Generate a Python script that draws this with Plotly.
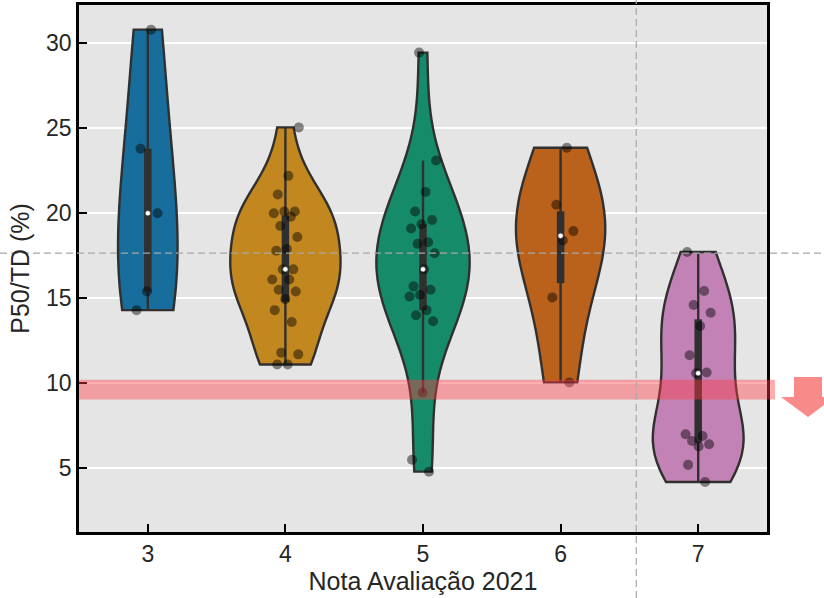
import numpy as np
import plotly.graph_objects as go

# ---- data: P50/TD (%) per "Nota Avaliação 2021" group ----
grades = [3, 4, 5, 6, 7]
tick_labels = ["3", "4", "5", "6", "7"]

p50_nota3 = [30.8, 23.8, 20.0, 15.4, 14.3]
p50_nota4 = [25.05, 22.2, 21.1, 20.1, 20.1, 20.0, 19.8, 19.25, 18.6, 17.9, 17.8,
             16.7, 16.7, 16.1, 16.1, 15.5, 15.4, 14.95, 14.3, 13.6, 11.8, 11.7,
             11.1, 11.1]
p50_nota5 = [29.45, 23.1, 21.25, 20.1, 19.6, 19.35, 19.1, 18.3, 18.2, 17.65, 16.7,
             15.7, 15.5, 15.2, 15.1, 14.3, 14.0, 13.65, 9.45, 5.5, 4.8]
p50_nota6 = [23.85, 20.5, 18.95, 18.4, 15.05, 10.05]
p50_nota7 = [17.72, 15.43, 14.6, 14.15, 13.37, 11.65, 10.63, 10.59, 7.0, 6.9,
             6.6, 6.41, 6.28, 5.2, 4.19]

groups = [p50_nota3, p50_nota4, p50_nota5, p50_nota6, p50_nota7]

# reference markers
ref_p50 = 17.65        # dashed horizontal reference
ref_grade = 6.55       # dashed vertical split
band_low, band_high = 9.05, 10.2   # highlighted threshold band

y_ticks = [5, 10, 15, 20, 25, 30]

# ---- style ----
colors = ["#176d9b", "#c38720", "#168b69", "#ba611b", "#c282b6"]
edge = "#303030"
font_family = "Liberation Sans, Arial, sans-serif"
x_range = [2.5, 7.5]
y_range = [1.25, 32.25]
full_width = 0.8        # widest violin (scale by area, like seaborn)
jitter = 0.1


def kde_info(vals):
    """Scott bandwidth and peak density over the data span (gaussian kernel)."""
    x = np.asarray(vals, float)
    bw = x.std(ddof=1) * len(x) ** -0.2
    grid = np.linspace(x.min(), x.max(), 100)
    z = (grid[:, None] - x[None, :]) / bw
    dens = np.exp(-0.5 * z ** 2).sum(axis=1) / (len(x) * bw * np.sqrt(2 * np.pi))
    return bw, dens.max()


def box_stats(vals):
    x = np.asarray(vals, float)
    q1, med, q3 = np.percentile(x, [25, 50, 75])
    lim = 1.5 * (q3 - q1)
    lo = x[x >= q1 - lim].min()
    hi = x[x <= q3 + lim].max()
    return q1, med, q3, lo, hi


info = [kde_info(v) for v in groups]
peak = max(d for _, d in info)

fig = go.Figure()

# violins
for g, vals, col, (bw, dmax) in zip(grades, groups, colors, info):
    fig.add_trace(go.Violin(
        x=[g] * len(vals), y=vals,
        fillcolor=col, line=dict(color=edge, width=2.4),
        bandwidth=bw, spanmode="hard", scalemode="width",
        width=full_width * dmax / peak,
        points=False, box_visible=False, meanline_visible=False,
        showlegend=False, hoverinfo="y",
    ))

# inner boxes (whisker + interquartile bar)
for g, vals in zip(grades, groups):
    q1, med, q3, lo, hi = box_stats(vals)
    fig.add_trace(go.Scatter(x=[g, g], y=[lo, hi], mode="lines",
                             line=dict(color=edge, width=2.4),
                             showlegend=False, hoverinfo="skip"))
    fig.add_trace(go.Scatter(x=[g, g], y=[q1, q3], mode="lines",
                             line=dict(color=edge, width=7.5),
                             showlegend=False, hoverinfo="skip"))

# strip points with a deterministic spread around each group
golden = 0.6180339887
for k, (g, vals) in enumerate(zip(grades, groups)):
    u = np.mod((np.arange(len(vals)) + 1) * golden + 0.37 * k, 1.0)
    xs = g + jitter * (2 * u - 1)
    fig.add_trace(go.Scatter(x=xs, y=vals, mode="markers",
                             marker=dict(size=10, color="rgba(0,0,0,0.45)",
                                         line=dict(width=0)),
                             showlegend=False, hoverinfo="y"))

# medians
for g, vals in zip(grades, groups):
    med = box_stats(vals)[1]
    fig.add_trace(go.Scatter(x=[g], y=[med], mode="markers",
                             marker=dict(size=5.5, color="white",
                                         line=dict(color=edge, width=0.8)),
                             showlegend=False, hoverinfo="y"))

# plot area in pixels (for shapes that extend past the axes)
W, H = 824, 598
ml, mr, mt, mb = 79, 57, 5, 66
pw, ph = W - ml - mr, H - mt - mb


def px_to_paper_x(px):
    return (px - ml) / pw


def px_to_paper_y(py):
    return (H - mb - py) / ph


shapes = [
    # threshold band
    dict(type="rect", xref="paper", yref="y",
         x0=0, x1=px_to_paper_x(775), y0=band_low, y1=band_high,
         fillcolor="rgba(255,60,70,0.42)", line=dict(width=0), layer="above"),
    # horizontal reference across the whole figure
    dict(type="line", xref="paper", yref="y",
         x0=px_to_paper_x(0), x1=px_to_paper_x(W), y0=ref_p50, y1=ref_p50,
         line=dict(color="#a8a8a8", width=1.2, dash="7px,4px"), layer="above"),
    # vertical split across the whole figure
    dict(type="line", xref="x", yref="paper",
         x0=ref_grade, x1=ref_grade, y0=px_to_paper_y(H), y1=px_to_paper_y(0),
         line=dict(color="#a8a8a8", width=1.2, dash="7px,4px"), layer="above"),
]

# downward arrow beside the band
sx0, sx1 = px_to_paper_x(794), px_to_paper_x(822)
hx0, hx1 = px_to_paper_x(781), px_to_paper_x(835)
tip = px_to_paper_x(808)
ay_top = band_high + 0.17
ay_mid = band_low + 0.14
ay_tip = band_low - 1.03
arrow_path = (f"M{sx0},{ay_top} L{sx1},{ay_top} L{sx1},{ay_mid} L{hx1},{ay_mid} "
              f"L{tip},{ay_tip} L{hx0},{ay_mid} L{sx0},{ay_mid} Z")
shapes.append(dict(type="path", xref="paper", yref="y", path=arrow_path,
                   fillcolor="#f98a8a", line=dict(width=0), layer="above"))

axis_common = dict(
    showline=True, mirror=True, linecolor="black", linewidth=2.5,
    ticks="inside", ticklen=8, tickwidth=2, tickcolor="black",
    zeroline=False, tickfont=dict(size=23, color="#262626", family=font_family),
)

fig.update_layout(
    width=W, height=H,
    margin=dict(l=ml, r=mr, t=mt, b=mb, autoexpand=False),
    paper_bgcolor="white", plot_bgcolor="#e5e5e5",
    violinmode="overlay",
    font=dict(family=font_family, color="#262626"),
    shapes=shapes,
    xaxis=dict(range=x_range, tickvals=grades, ticktext=tick_labels,
               showgrid=False,
               title=dict(text="Nota Avaliação 2021", standoff=6,
                          font=dict(size=25, family=font_family, color="#262626")),
               **axis_common),
    yaxis=dict(range=y_range, tickvals=y_ticks, showgrid=True,
               gridcolor="white", gridwidth=2,
               title=dict(text="P50/TD (%)", standoff=10,
                          font=dict(size=25, family=font_family, color="#262626")),
               **axis_common),
)

fig.write_html("out.html")
